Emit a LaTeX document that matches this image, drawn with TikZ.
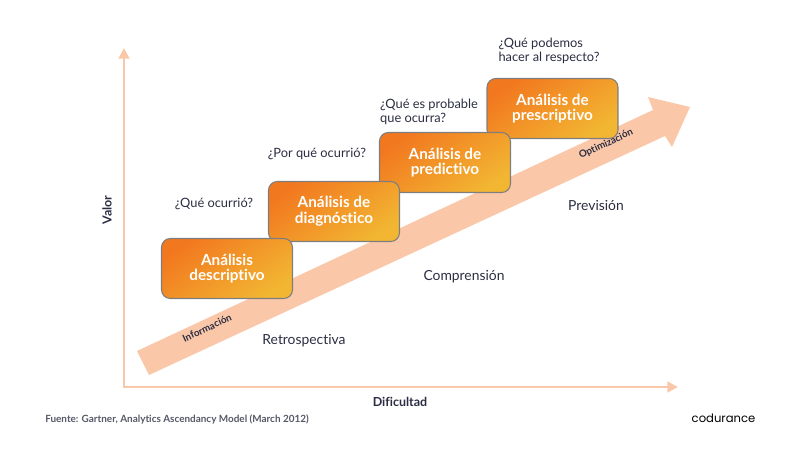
\documentclass[tikz,border=0pt]{standalone}
\usepackage{fontspec}
\usepackage{tikz}
\usetikzlibrary{arrows.meta}
\setmainfont[Ligatures=NoCommon]{Lato}
\newfontfamily\logofont{Poppins}
\definecolor{bandpeach}{HTML}{FAC8A8}
\definecolor{inktext}{HTML}{2B2D42}
\definecolor{greytext}{HTML}{555866}
\definecolor{boxstart}{HTML}{F2781F}
\definecolor{boxend}{HTML}{F2B632}
\definecolor{boxedge}{HTML}{7E7E7E}
\tikzset{
  analisis/.style={draw=boxedge, line width=0.6pt, rounded corners=5pt, minimum width=2.62cm, minimum height=1.2cm,
    shading=axis, left color=boxstart, right color=boxend, shading angle=35, text=white, align=center, font=\bfseries\fontsize{8.7}{8.9}\selectfont},
  pregunta/.style={text=inktext, align=left, font=\fontsize{7.3}{7.9}\selectfont},
  etapa/.style={text=inktext, font=\fontsize{7.9}{9}\selectfont},
  bandtext/.style={text=inktext, rotate=25, font=\bfseries\fontsize{5.6}{7}\selectfont},
  axisline/.style={draw=bandpeach, line width=1.3pt, {Triangle[length=6pt,width=6pt]}-{Triangle[length=6pt,width=6pt]}},
  axistext/.style={text=inktext, font=\bfseries\fontsize{7.1}{9}\selectfont}
}
\begin{document}
\begin{tikzpicture}[x=0.02cm, y=-0.02cm]
  \useasboundingbox (0,0) rectangle (800,450);
  \coordinate (valortop) at (124,48);
  \coordinate (origin) at (124,387);
  \coordinate (dificultadend) at (678,387);
  \draw [axisline] (valortop) -- (origin) -- (dificultadend);
  \fill [bandpeach] plot coordinates {(137,351) (653,110) (648,97) (690,107) (672,147) (665,136) (149,375)} -- cycle;
  \node [analisis] (prescriptivo) at (552.5,108.5) {Análisis de\\prescriptivo};
  \node [analisis] (predictivo) at (445,162.5) {Análisis de\\predictivo};
  \node [analisis] (diagnostico) at (334,211.5) {Análisis de\\diagnóstico};
  \node [analisis] (descriptivo) at (227,268.5) {Análisis\\descriptivo};
  \node [pregunta] (quepodemos) at (549,51) {¿Qué podemos\\hacer al respecto?};
  \node [pregunta] (queprobable) at (429,112) {¿Qué es probable\\que ocurra?};
  \node [pregunta] (porque) at (317,154) {¿Por qué ocurrió?};
  \node [pregunta] (queocurrio) at (214,204) {¿Qué ocurrió?};
  \node [etapa] (retrospectiva) at (304,341) {Retrospectiva};
  \node [etapa] (comprension) at (464,277) {Comprensión};
  \node [etapa] (prevision) at (596,205) {Previsión};
  \node [bandtext] (informacion) at (207,328) {Información};
  \node [bandtext] (optimizacion) at (606,144) {Optimización};
  \node [axistext, rotate=90] (valor) at (107,210) {Valor};
  \node [axistext] (dificultad) at (400,402) {Dificultad};
  \node [text=greytext, font=\bfseries\fontsize{5.65}{7}\selectfont] (fuente) at (177,419.5) {Fuente: Gartner, Analytics Ascendancy Model (March 2012)};
  \node [text=black, font=\logofont\fontsize{6.6}{8}\selectfont] (codurance) at (723.5,418) {codurance};
\end{tikzpicture}
\end{document}
